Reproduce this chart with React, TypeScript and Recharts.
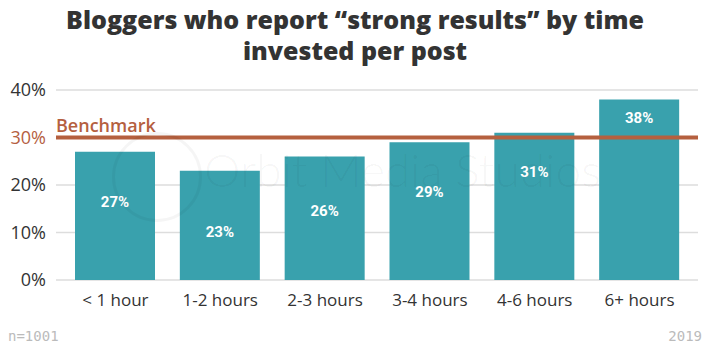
import { BarChart, Bar, XAxis, YAxis, CartesianGrid, ReferenceLine, LabelList } from 'recharts'

const categories = ['< 1 hour', '1-2 hours', '2-3 hours', '3-4 hours', '4-6 hours', '6+ hours']
const strongResults = [27, 23, 26, 29, 31, 38]
const yTicks = [0, 10, 20, 30, 40]
const benchmark = 30

// label heights inside the bars vary in the source, keep them as shifts from the bar centre
const labelShift = [-14, 6, -8, -20, -35, -72]

const data = categories.map((name, i) => ({ name, value: strongResults[i] }))

const TEAL = '#39a1ad'
const RUST = '#b5603f'
const FONT = "'Open Sans', sans-serif"

function YTick(props: any) {
  const { x, y, payload } = props
  const isBench = payload.value === benchmark
  return (
    <text x={x - 2} y={y} dy="0.36em" textAnchor="end" fontSize={18} fontFamily={FONT}
      fill={isBench ? RUST : '#333'}>
      {payload.value}%
    </text>
  )
}

function BarLabel(props: any) {
  const { x, y, width, height, value, index } = props
  return (
    <text x={x + width / 2} y={y + height / 2 + labelShift[index]} dy="0.36em" textAnchor="middle"
      fontSize={15} fontWeight={700} fontFamily="Roboto, sans-serif" fill="#fff">
      {value}%
    </text>
  )
}

function BenchLabel(props: any) {
  const { viewBox } = props
  return (
    <text x={viewBox.x} y={viewBox.y - 6} fontSize={18} fontWeight={600} fontFamily={FONT} fill={RUST}>
      Benchmark
    </text>
  )
}

export default function App() {
  return (
    <div style={{ position: 'absolute', left: 0, top: 0, width: 710, height: 355, background: '#fff', fontFamily: FONT }}>
      <div style={{ position: 'absolute', left: 0, top: 4, width: 710, textAlign: 'center', fontSize: 25,
        fontWeight: 800, lineHeight: '31px', color: '#333' }}>
        Bloggers who report “strong results” by time<br />invested per post
      </div>
      <BarChart width={710} height={355} data={data} margin={{ top: 90, right: 12, bottom: 45, left: 6 }}>
        <CartesianGrid vertical={false} stroke="#ddd" strokeWidth={1.5} />
        <XAxis dataKey="name" axisLine={false} tickLine={false} tickMargin={8}
          padding={{ left: 7, right: 6 }}
          tick={{ fill: '#333', fontSize: 17, fontFamily: FONT }} height={30} interval={0} />
        <YAxis domain={[0, 40]} ticks={yTicks} axisLine={false} tickLine={false} width={50}
          tick={<YTick />} />
        <Bar dataKey="value" fill={TEAL} barSize={80} isAnimationActive={false}>
          <LabelList dataKey="value" content={<BarLabel />} />
        </Bar>
        <ReferenceLine y={benchmark} stroke={RUST} strokeWidth={4} label={<BenchLabel />} />
      </BarChart>
      <div style={{ position: 'absolute', left: 112, top: 132, width: 500, height: 90, pointerEvents: 'none' }}>
        <div style={{ position: 'absolute', left: 0, top: 0, width: 84, height: 84, borderRadius: '50%',
          border: '3px solid rgba(0,0,0,0.04)' }} />
        <div style={{ position: 'absolute', left: 92, top: 10, fontSize: 46, fontWeight: 300, fontFamily: 'Lato, sans-serif',
          color: 'rgba(0,0,0,0.045)', whiteSpace: 'nowrap' }}>
          Orbit Media Studios
        </div>
      </div>
      <div style={{ position: 'absolute', left: 8, top: 328, fontSize: 14, color: '#bbb', fontFamily: "'DejaVu Sans Mono', monospace" }}>
        n=1001
      </div>
      <div style={{ position: 'absolute', right: 8, top: 328, fontSize: 14, color: '#bbb', fontFamily: "'DejaVu Sans Mono', monospace" }}>
        2019
      </div>
    </div>
  )
}
